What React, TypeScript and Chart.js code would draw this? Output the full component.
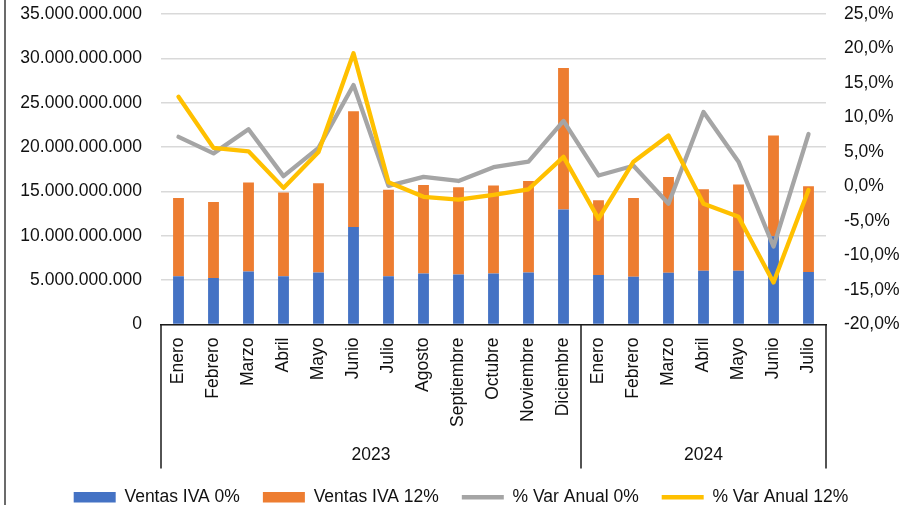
import React, { useEffect, useRef } from "react";
import { Chart, registerables } from "chart.js";

Chart.register(...registerables);

const categories = [
  "Enero", "Febrero", "Marzo", "Abril", "Mayo", "Junio", "Julio", "Agosto",
  "Septiembre", "Octubre", "Noviembre", "Diciembre",
  "Enero", "Febrero", "Marzo", "Abril", "Mayo", "Junio", "Julio",
];
const yearLabels = ["2023", "2024"];
const yearCounts = [12, 7];

const ventasIva0 = [
  5450000000, 5230000000, 5980000000, 5450000000, 5870000000, 10990000000,
  5450000000, 5760000000, 5650000000, 5760000000, 5870000000, 12950000000,
  5570000000, 5380000000, 5830000000, 6060000000, 6060000000, 9950000000, 5910000000,
];
const ventasIva12 = [
  8810000000, 8580000000, 10020000000, 9420000000, 10050000000, 13060000000,
  9750000000, 9970000000, 9820000000, 9900000000, 10310000000, 15950000000,
  8430000000, 8880000000, 10800000000, 9180000000, 9710000000, 11350000000, 9670000000,
];
const varAnual0 = [
  7.2, 4.8, 8.3, 1.5, 5.6, 14.7, 0.1, 1.4, 0.8, 2.8, 3.6, 9.5,
  1.6, 3.0, -2.5, 10.8, 3.6, -8.7, 7.6,
];
const varAnual12 = [
  13.0, 5.6, 5.1, -0.2, 5.0, 19.3, 0.6, -1.5, -1.9, -1.2, -0.4, 4.3,
  -4.7, 3.6, 7.4, -2.5, -4.4, -13.9, -0.5,
];

const FONT = "'Liberation Sans', Arial, sans-serif";
const FS = 17.5;
const TEXT = "#111111";

const yearPlugin = {
  id: "yearGroups",
  afterLayout(chart: any) {
    if (chart.legend) {
      chart.legend.left += 9;
      chart.legend.right += 9;
    }
  },
  afterDraw(chart: any) {
    const { ctx, chartArea, scales } = chart;
    const x = scales.x;
    const half = (x.getPixelForValue(1) - x.getPixelForValue(0)) / 2;
    const bounds: number[] = [x.left];
    let idx = 0;
    yearCounts.forEach((c) => {
      idx += c;
      bounds.push(idx >= categories.length ? x.right : x.getPixelForValue(idx) - half);
    });
    const top = chartArea.bottom;
    const bottom = chartArea.bottom + 144;
    ctx.save();
    ctx.strokeStyle = "#1a1a1a";
    ctx.lineWidth = 1.5;
    bounds.forEach((bx) => {
      ctx.beginPath();
      ctx.moveTo(bx, top);
      ctx.lineTo(bx, bottom);
      ctx.stroke();
    });
    ctx.fillStyle = TEXT;
    ctx.font = `${FS}px ${FONT}`;
    ctx.textAlign = "center";
    ctx.textBaseline = "middle";
    yearLabels.forEach((lab, i) => {
      ctx.fillText(lab, (bounds[i] + bounds[i + 1]) / 2, chartArea.bottom + 131);
    });
    // chart frame (left edge)
    ctx.strokeStyle = "#6b6b6b";
    ctx.lineWidth = 2;
    ctx.beginPath();
    ctx.moveTo(5, 0);
    ctx.lineTo(5, chart.height);
    ctx.stroke();
    ctx.restore();
  },
};

function fmtThousands(v: number) {
  return String(Math.round(v)).replace(/\B(?=(\d{3})+(?!\d))/g, ".");
}

export default function App() {
  const ref = useRef<HTMLCanvasElement | null>(null);
  useEffect(() => {
    if (!ref.current) return;
    Chart.defaults.font.family = FONT;
    Chart.defaults.font.size = FS;
    Chart.defaults.color = TEXT;
    const chart = new Chart(ref.current, {
      type: "bar",
      data: {
        labels: categories,
        datasets: [
          {
            type: "bar",
            label: "Ventas IVA 0%",
            data: ventasIva0,
            backgroundColor: "#4472C4",
            yAxisID: "y",
            order: 2,
            pointStyle: "rect",
            barPercentage: 0.31,
            categoryPercentage: 1,
          },
          {
            type: "bar",
            label: "Ventas IVA 12%",
            data: ventasIva12,
            backgroundColor: "#ED7D31",
            yAxisID: "y",
            order: 2,
            pointStyle: "rect",
            barPercentage: 0.31,
            categoryPercentage: 1,
          },
          {
            type: "line",
            label: "% Var Anual 0%",
            data: varAnual0,
            borderColor: "#A5A5A5",
            backgroundColor: "#A5A5A5",
            borderWidth: 4.3,
            pointRadius: 0,
            pointStyle: "line",
            borderJoinStyle: "round",
            borderCapStyle: "round",
            tension: 0,
            yAxisID: "y1",
            order: 1,
          },
          {
            type: "line",
            label: "% Var Anual 12%",
            data: varAnual12,
            borderColor: "#FFC000",
            backgroundColor: "#FFC000",
            borderWidth: 4.3,
            pointRadius: 0,
            pointStyle: "line",
            borderJoinStyle: "round",
            borderCapStyle: "round",
            tension: 0,
            yAxisID: "y1",
            order: 0,
          },
        ] as any,
      },
      options: {
        animation: false,
        responsive: true,
        maintainAspectRatio: false,
        layout: { padding: { top: 14, left: 0, right: 0, bottom: 0 } },
        plugins: {
          tooltip: { enabled: false },
          legend: {
            position: "bottom",
            labels: {
              usePointStyle: true,
              pointStyleWidth: 42,
              boxHeight: 10.5,
              padding: 23,
              color: TEXT,
              font: { size: FS, family: FONT },
              sort: (a: any, b: any) => a.datasetIndex - b.datasetIndex,
            },
          },
        },
        scales: {
          x: {
            stacked: true,
            grid: { display: false, drawTicks: false },
            border: { display: true, color: "#1a1a1a", width: 1.5 },
            ticks: {
              autoSkip: false,
              minRotation: 90,
              maxRotation: 90,
              padding: 13,
              color: TEXT,
              font: { size: FS, family: FONT },
            },
            afterFit: (s: any) => {
              s.height = 141;
            },
          },
          y: {
            stacked: true,
            position: "left",
            min: 0,
            max: 35000000000,
            grid: { color: "#d9d9d9", lineWidth: 1.6, drawTicks: false },
            border: { display: false },
            ticks: {
              stepSize: 5000000000,
              padding: 19,
              color: TEXT,
              font: { size: FS, family: FONT },
              callback: (v: any) => fmtThousands(Number(v)),
            },
            afterFit: (s: any) => {
              s.width = 161;
              s.paddingTop = 0;
              s.paddingBottom = 0;
            },
          },
          y1: {
            position: "right",
            min: -20,
            max: 25,
            grid: { display: false, drawTicks: false },
            border: { display: false },
            ticks: {
              stepSize: 5,
              padding: 18,
              color: TEXT,
              font: { size: FS, family: FONT },
              callback: (v: any) => {
                const n = Math.round(Number(v) * 10) / 10;
                return (n === 0 ? 0 : n).toFixed(1).replace(".", ",") + "%";
              },
            },
            afterFit: (s: any) => {
              s.width = 78;
              s.paddingTop = 0;
              s.paddingBottom = 0;
            },
          },
        },
      } as any,
      plugins: [yearPlugin],
    });
    return () => chart.destroy();
  }, []);
  return (
    <div
      style={{
        position: "absolute",
        left: 0,
        top: 0,
        width: 904,
        height: 505,
        overflow: "hidden",
        background: "#ffffff",
      }}
    >
      <div style={{ position: "relative", width: 904, height: 516 }}>
        <canvas ref={ref} />
      </div>
    </div>
  );
}
